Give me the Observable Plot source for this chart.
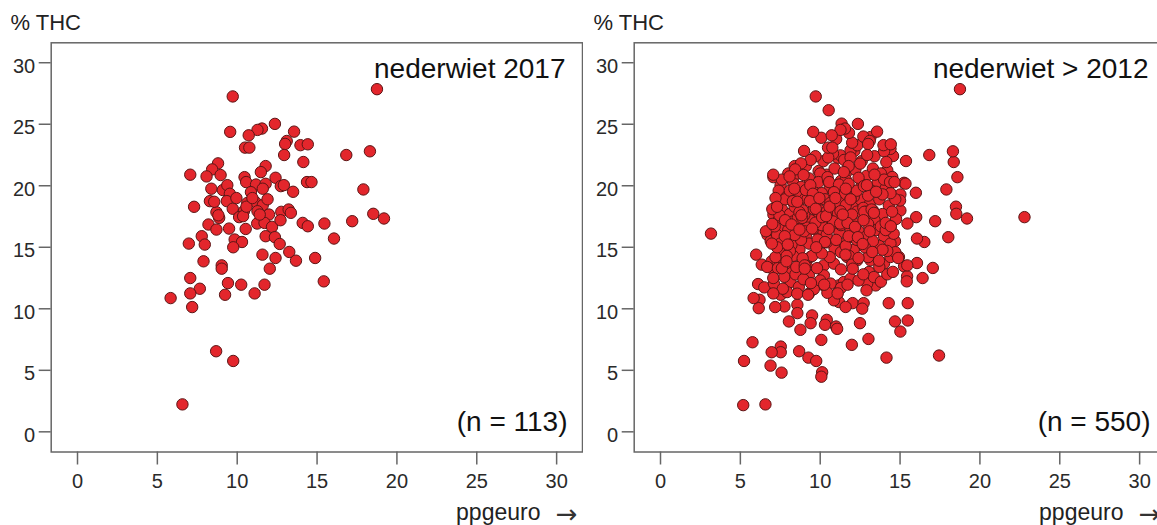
<!DOCTYPE html>
<html lang="nl">
<head>
<meta charset="utf-8">
<title>% THC tegen ppgeuro</title>
<script src="https://cdn.jsdelivr.net/npm/d3@7"></script>
<script src="https://cdn.jsdelivr.net/npm/@observablehq/plot@0.6"></script>
<style>
  body {
    margin: 0;
    overflow: hidden;
    background: #fff;
  }
  #graphic {
    display: flex;
    width: 1166px;
  }
  #graphic svg {
    flex: none;
    overflow: visible;
  }
</style>
</head>
<body>
<div id="graphic"></div>

<script>
// [ppgeuro, % THC] for the 2017 samples (left panel, also part of the right one)
const sample2017 = [
  [18.75,27.85],[9.72,27.26],[12.36,25.03],[9.56,24.38],[11.55,24.65],[11.27,24.54],[13.56,24.40],[10.72,24.10],
  [13.10,23.64],[13.00,23.40],[13.96,23.30],[14.42,23.37],[10.49,23.10],[10.76,23.10],[12.94,22.50],[16.83,22.50],
  [18.31,22.80],[14.14,21.93],[8.80,21.82],[8.43,21.33],[11.78,21.60],[11.48,21.11],[7.06,20.90],[8.08,20.76],
  [8.96,20.87],[12.40,20.65],[10.46,20.70],[10.56,20.30],[11.18,20.10],[11.78,20.16],[12.73,19.97],[12.92,20.05],
  [14.37,20.30],[14.65,20.30],[8.38,19.76],[9.10,19.65],[9.38,20.05],[9.54,19.35],[11.60,19.76],[10.86,19.48],
  [13.50,19.51],[17.90,19.70],[8.29,18.75],[9.35,18.75],[7.30,18.29],[10.63,18.60],[11.14,18.67],[11.60,18.42],
  [9.72,18.13],[8.70,17.85],[10.42,17.93],[11.27,17.93],[11.99,17.66],[12.76,17.88],[13.22,18.07],[13.36,17.80],
  [8.87,17.39],[8.82,17.60],[10.12,17.45],[10.37,17.53],[18.52,17.72],[19.19,17.34],[17.20,17.12],[8.20,16.85],
  [8.70,16.44],[9.49,16.52],[10.53,16.49],[11.25,16.93],[11.71,16.98],[12.18,16.66],[12.71,17.20],[14.10,16.98],
  [14.42,16.71],[15.46,16.93],[7.78,15.90],[7.97,15.22],[6.97,15.30],[11.78,15.90],[12.36,15.82],[12.66,15.27],
  [9.84,15.63],[10.30,15.43],[9.75,15.00],[16.06,15.71],[11.58,14.40],[13.26,14.62],[12.40,14.13],[13.68,13.91],
  [14.88,14.13],[7.89,13.86],[9.03,13.53],[9.03,13.26],[12.04,13.26],[7.06,12.50],[15.42,12.23],[9.42,12.09],
  [10.25,11.96],[11.71,11.96],[7.66,11.63],[7.06,11.25],[9.24,11.14],[11.09,11.25],[5.83,10.87],[7.18,10.14],
  [8.68,6.55],[9.75,5.76],[6.57,2.23],[10.58,18.30],[10.95,19.00],[11.41,17.66],[9.95,19.00],[11.90,18.90],
  [8.56,18.70]
];

// [ppgeuro, % THC] for the other samples since 2012 (right panel only)
const sampleOther = [
  [10.53,26.14],[11.34,25.05],[10.07,23.90],[8.99,22.83],[14.56,22.42],[18.36,21.93],[15.37,22.01],[11.10,22.28],
  [12.14,22.83],[7.07,20.70],[18.59,20.70],[15.99,19.43],[15.25,20.24],[15.02,19.29],[18.50,18.30],[22.79,17.45],
  [16.01,17.45],[15.02,17.99],[3.16,16.11],[18.02,15.82],[16.52,15.43],[14.68,15.49],[5.99,14.40],[6.34,13.59],
  [16.06,13.72],[17.05,13.32],[15.25,13.45],[15.44,12.64],[16.41,12.50],[6.11,12.01],[6.50,11.74],[6.20,10.73],
  [6.15,10.05],[7.76,10.19],[8.57,10.33],[8.57,9.65],[8.04,8.97],[8.76,8.29],[9.49,9.46],[9.40,8.83],
  [10.41,9.10],[10.30,8.70],[10.99,8.56],[11.06,8.37],[12.03,10.46],[12.72,10.46],[12.49,8.83],[14.29,10.46],
  [15.48,10.46],[15.48,9.05],[14.68,8.97],[15.02,8.15],[13.02,7.55],[11.98,7.07],[10.07,7.47],[5.76,7.28],
  [7.53,6.93],[7.53,6.47],[6.96,6.47],[9.26,6.03],[14.15,6.03],[17.44,6.20],[5.23,5.76],[6.89,5.38],
  [7.58,4.81],[10.12,4.84],[10.07,4.48],[5.18,2.17],
  [6.70,16.00],[6.90,15.50],[6.60,16.30],[7.07,17.66],[7.26,18.34],[7.35,17.12],[6.96,13.30],[7.53,11.14],
  [6.96,13.86],
  [14.40,23.00],[14.20,21.25],[14.51,20.71],[15.34,20.17],[11.27,22.47],[11.90,22.88],[12.32,23.29],[13.15,23.96],
  [14.40,16.65],[15.00,18.80],[7.52,20.04],[8.14,20.71],[8.77,21.52],
  [7.10,12.05],[8.14,12.18],[7.93,11.36],[9.29,11.23],[10.23,11.90],[11.07,11.23],[11.17,11.90],[11.69,12.05],
  [12.63,10.01],[13.26,12.31],[13.05,12.99],[13.47,11.90],[11.17,10.55],[11.59,10.15],[10.86,10.69],[8.14,13.13],
  [8.77,13.53],[9.39,14.21],[10.23,13.53],[10.86,13.67],[11.69,14.21],[12.32,13.94],[13.15,13.94],[13.99,13.67],
  [14.40,14.21],[14.93,14.21],[15.45,13.53],[12.94,12.05],[13.36,12.58],[11.48,12.18],[11.90,12.45],[10.23,12.72],
  [10.65,12.05],[9.19,13.40],[9.29,12.72],[8.66,11.77],[8.56,11.23],[6.68,13.40],[7.31,13.94],[7.83,13.67],
  [7.40,19.60],[7.90,19.10],[8.30,20.30],[8.80,19.90],[9.30,20.60],[9.90,21.20],[10.40,20.90],[10.90,21.40],
  [11.60,21.00],[12.20,21.30],[12.90,20.80],[13.60,20.30],[14.10,19.80],[13.20,19.60],[12.60,20.10],[11.90,19.70],
  [11.30,20.40],[10.60,19.90],[10.10,19.40],[9.50,19.80],[8.90,19.30],[8.20,18.80],[7.60,18.10],[8.10,17.70],
  [8.60,18.40],[9.20,18.90],[9.80,18.50],[10.30,18.90],[10.80,18.20],[11.40,18.80],[12.00,18.40],[12.50,18.90],
  [13.10,18.50],[13.70,18.90],[14.30,18.40],[13.90,17.70],[13.40,17.20],[12.80,17.60],[12.30,17.90],[11.70,17.40],
  [11.10,17.80],[10.50,17.30],[9.90,17.80],[9.40,17.20],[8.80,16.80],[8.30,17.10],[7.70,16.60],[7.30,16.00],
  [7.90,15.70],[8.50,16.20],[9.10,15.90],[9.60,16.50],[10.20,16.10],[10.70,16.70],[11.20,16.20],[11.80,15.80],
  [12.40,16.30],[12.90,15.90],[13.50,16.40],[14.00,15.90],[14.40,15.30],[13.70,15.10],[13.20,14.70],[12.60,15.20],
  [12.10,14.80],[11.50,15.30],[10.90,14.90],[10.40,15.40],[9.80,14.90],[9.30,15.30],[8.70,14.80],[8.20,15.20],
  [7.60,14.70],[7.20,14.20],[8.30,14.30],[9.50,14.30],[10.60,14.20],[11.80,14.30],[13.00,14.20],
  [8.60,21.00],[9.10,21.60],[10.20,22.00],[10.80,22.60],[11.50,22.10],[12.60,22.00],[13.30,21.40],[13.80,21.00],
  [9.70,22.40],[8.00,21.00],[7.60,20.50],[12.00,23.50],[11.00,23.80],[11.80,24.30],[12.70,24.00],[13.40,22.40],
  [14.00,22.80],[10.00,21.00],
  [7.80,18.90],[8.50,19.50],[9.00,17.60],[9.60,18.10],[10.20,17.60],[10.90,19.10],[11.50,19.30],[12.10,19.10],
  [12.70,18.20],[13.30,18.00],[11.30,16.80],[10.10,16.80],[9.20,16.60],[8.00,16.40],[12.20,16.90],[13.00,16.90],
  [13.80,16.70],[11.00,15.60],[9.90,15.60],[8.80,15.60],[12.30,15.60],[13.30,15.50],[7.50,15.30],
  [7.45,17.60],[7.15,16.70],[7.80,17.20],[8.40,16.00],[8.10,14.70],[7.35,13.30],[7.75,12.60],[8.45,12.80],
  [8.95,12.40],[9.60,11.60],[10.00,12.30],[10.45,11.30],[11.30,11.70],[12.40,12.30],[12.90,11.50],[13.80,12.20],
  [14.20,12.80],[13.70,13.40],[14.55,13.00],[14.70,14.60],[14.20,14.70],[14.60,16.10],[14.75,17.30],[14.50,17.90],
  [14.70,18.90],[14.40,19.40],[14.00,20.50],[13.40,20.90],[12.50,21.80],[11.90,22.30],[10.50,22.30],[9.40,22.10],
  [8.40,21.60],[9.90,20.30],[10.50,20.40],[11.60,20.50],[12.30,19.60],[13.00,19.20],[13.90,19.30],[8.10,19.60],
  [7.20,19.00],[7.00,18.10],[7.00,16.90],[7.30,15.00],[8.60,17.40],[9.70,17.00],[10.80,17.10],[11.90,16.50],
  [13.10,16.30],[14.10,16.40],[12.80,15.00],[11.30,14.60],[10.10,14.50],[8.90,14.10],[7.90,14.30],[7.60,13.30],
  [8.50,13.40],[9.80,13.30],[11.30,13.20],[12.00,13.60],[12.70,12.80],[13.90,14.80],[9.00,16.30],[10.40,16.00],
  [11.60,15.10],[12.90,17.90],[11.90,18.90],[10.00,18.00],[8.90,18.00],[8.40,18.30]
];

const xTicks = [0, 5, 10, 15, 20, 25, 30];
const yTicks = [0, 5, 10, 15, 20, 25, 30];

const toRows = pairs => pairs.map(([ppg, thc]) => ({ppg, thc}));

function scatter(rows, title, count) {
  return Plot.plot({
    width: 583,
    height: 525,
    marginLeft: 50.7,
    marginRight: 1,
    marginTop: 42.3,
    marginBottom: 73.5,
    style: {fontFamily: "'Liberation Sans', Arial, sans-serif", background: "#fff", color: "#222", overflow: "visible"},
    x: {domain: [-1.647, 31.62]},
    y: {domain: [-1.64, 31.62]},
    marks: [
      Plot.frame({stroke: "#666", strokeWidth: 1.5}),
      // tick lines from the axes, tick labels as plain text marks
      Plot.axisX(xTicks, {tickSize: 13, tickFormat: () => "", stroke: "#666", strokeWidth: 1.5, label: null}),
      Plot.axisY(yTicks, {tickSize: 12, tickFormat: () => "", stroke: "#666", strokeWidth: 1.5, label: null}),
      Plot.text(xTicks, {x: d => d, text: d => String(d), frameAnchor: "bottom", lineAnchor: "top", dy: 21.5, fontSize: 20, fill: "#2a2a2a"}),
      Plot.text(yTicks, {y: d => d, text: d => String(d), frameAnchor: "left", textAnchor: "end", lineAnchor: "middle", dx: -16, dy: 3.5, fontSize: 20, fill: "#2a2a2a"}),
      Plot.dot(rows, {x: "ppg", y: "thc", r: 5.7, fill: "#e3262c", stroke: "#5c1515", strokeWidth: 1}),
      Plot.text([title], {text: d => d, frameAnchor: "top-right", lineAnchor: "middle", dx: -17, dy: 26, fontSize: 28, fill: "#111"}),
      Plot.text([count], {text: d => d, frameAnchor: "bottom-right", lineAnchor: "middle", dx: -15, dy: -30, fontSize: 28, fill: "#111"}),
      Plot.text(["% THC"], {text: d => d, frameAnchor: "top-left", textAnchor: "start", lineAnchor: "middle", dx: -40.7, dy: -19.7, fontSize: 22, fill: "#222"}),
      Plot.text(["ppgeuro"], {text: d => d, frameAnchor: "bottom-right", textAnchor: "end", lineAnchor: "middle", dx: -42, dy: 61, fontSize: 23, fill: "#222"}),
      Plot.text(["\u2192"], {text: d => d, frameAnchor: "bottom-right", textAnchor: "end", lineAnchor: "middle", dx: -5, dy: 63, fontSize: 26, fontFamily: "DejaVu Sans", fill: "#333"})
    ]
  });
}

const rows2017 = toRows(sample2017);
const rowsAll = toRows(sampleOther).concat(rows2017);

const graphic = document.getElementById("graphic");
graphic.appendChild(scatter(rows2017, "nederwiet 2017", "(n = 113)"));
graphic.appendChild(scatter(rowsAll, "nederwiet > 2012", "(n = 550)"));
</script>
</body>
</html>
